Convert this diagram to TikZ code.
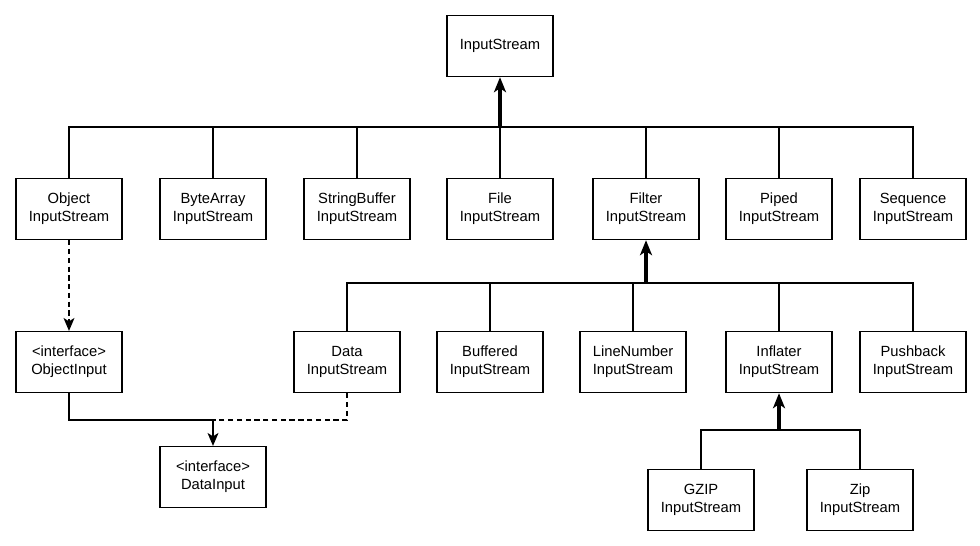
\documentclass[tikz,border=0pt]{standalone}
\usepackage{fontspec}
\setmainfont{Liberation Sans}
\usetikzlibrary{arrows.meta}

\begin{document}
\begin{tikzpicture}[x=0.02cm, y=-0.02cm, font=\fontsize{8.4}{10.2}\selectfont,
  cls/.style={draw, line width=0.75pt, minimum width=2.12cm, minimum height=1.22cm, align=center, inner sep=0pt, yshift=-0.6pt},
  ln/.style={line width=0.6pt},
  inh/.style={line width=1.8pt, -{Stealth[length=3mm, width=2.4mm, inset=0.8mm]}},
  thn/.style={-{Stealth[length=2.6mm, width=2.2mm, inset=0.7mm]}},
  dsh/.style={line width=0.6pt, dash pattern=on 3pt off 2pt}]
  \useasboundingbox (0,0) rectangle (980,545);
  \node[cls] (is) at (500,45) {InputStream};
  % second row
  \node[cls] (obj) at (69,208) {Object\\InputStream};
  \node[cls] (ba) at (213,208) {ByteArray\\InputStream};
  \node[cls] (sb) at (357,208) {StringBuffer\\InputStream};
  \node[cls] (fi) at (500,208) {File\\InputStream};
  \node[cls] (flt) at (646,208) {Filter\\InputStream};
  \node[cls] (pip) at (779,208) {Piped\\InputStream};
  \node[cls] (seq) at (913,208) {Sequence\\InputStream};
  % third row
  \node[cls] (oi) at (69,361) {<interface>\\ObjectInput};
  \node[cls] (dat) at (347,361) {Data\\InputStream};
  \node[cls] (buf) at (490,361) {Buffered\\InputStream};
  \node[cls] (lnr) at (633,361) {LineNumber\\InputStream};
  \node[cls] (inf) at (779,361) {Inflater\\InputStream};
  \node[cls] (pb) at (913,361) {Pushback\\InputStream};
  % bottom
  \node[cls] (di) at (213,476) {<interface>\\DataInput};
  \node[cls] (gz) at (701,499) {GZIP\\InputStream};
  \node[cls] (zp) at (860,499) {Zip\\InputStream};
  % junctions
  \coordinate (isj) at (500,127);
  \coordinate (fj) at (646,283);
  \coordinate (dj) at (213,420);
  \coordinate (ij) at (779,430);
  \foreach \n in {obj,ba,sb,fi,flt,pip,seq}
    \draw[ln] (\n.north) |- (isj);
  \draw[inh] (isj) -- (is.south);
  \foreach \n in {dat,buf,lnr,inf,pb}
    \draw[ln] (\n.north) |- (fj);
  \draw[inh] (fj) -- (flt.south);
  \draw[dsh, thn] (obj.south) -- (oi.north);
  \draw[ln] (oi.south) |- (dj);
  \draw[dsh] (dat.south) |- (dj);
  \draw[ln, thn] (dj) -- (di.north);
  \draw[ln] (gz.north) |- (ij);
  \draw[ln] (zp.north) |- (ij);
  \draw[inh] (ij) -- (inf.south);
\end{tikzpicture}
\end{document}
